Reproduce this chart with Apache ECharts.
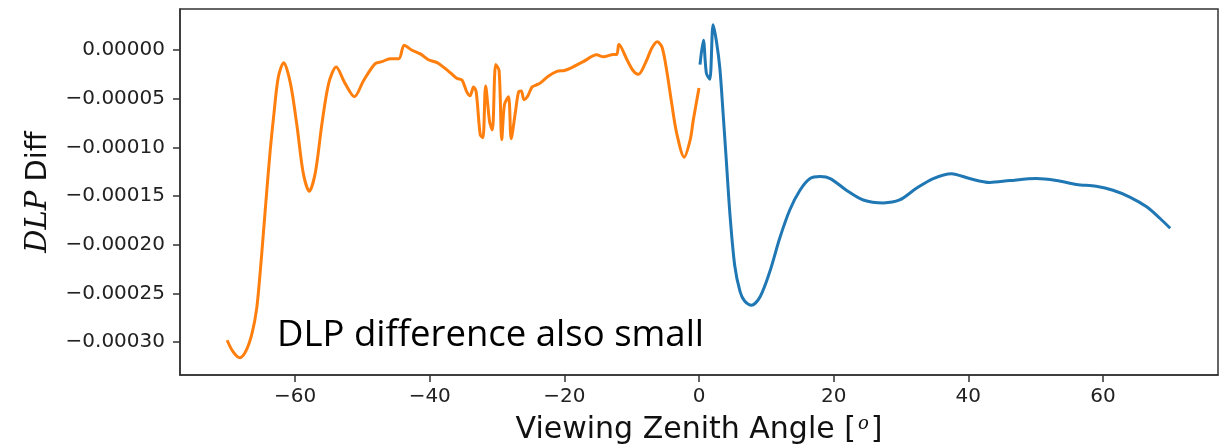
<!DOCTYPE html>
<html>
<head>
<meta charset="utf-8">
<script src="https://cdn.jsdelivr.net/npm/echarts@6/dist/echarts.min.js"></script>
<style>html,body{margin:0;padding:0;background:#fff}#c{width:1225px;height:448px}</style>
</head>
<body>
<div id="c"></div>
<script>
// Orange series: negative viewing zenith angles
const orangeX = [-70.1,-69.2,-68.2,-67.3,-66.4,-65.7,-65.2,-64.7,-64.2,-63.7,-63.2,-62.5,-61.7,-60.7,-59.7,-58.8,-57.9,-57.0,-56.0,-55.0,-53.9,-52.6,-51.2,-49.8,-48.1,-47.1,-45.9,-44.6,-43.8,-42.7,-41.4,-40.2,-38.9,-37.7,-37.0,-36.0,-35.2,-34.5,-34.0,-33.5,-33.1,-32.5,-32.1,-31.7,-31.1,-30.7,-30.2,-29.7,-29.3,-28.9,-28.3,-27.9,-27.3,-26.8,-26.4,-26.0,-25.5,-24.8,-24.2,-23.6,-22.4,-21.1,-20.0,-18.9,-17.2,-15.2,-14.2,-12.7,-12.2,-11.9,-10.7,-9.8,-9.0,-8.0,-7.0,-6.2,-5.5,-4.8,-4.05,-3.3,-2.2,-1.3,-0.85,0.0];
const orangeY = [-2.98e-4,-3.10e-4,-3.16e-4,-3.09e-4,-2.91e-4,-2.65e-4,-2.29e-4,-1.87e-4,-1.44e-4,-1.03e-4,-6.9e-5,-2.8e-5,-1.3e-5,-3.4e-5,-7.9e-5,-1.26e-4,-1.45e-4,-1.26e-4,-7.5e-5,-3.4e-5,-1.75e-5,-3.4e-5,-4.8e-5,-3.1e-5,-1.4e-5,-1.2e-5,-9e-6,-9e-6,5e-6,0,-4e-6,-1.0e-5,-1.3e-5,-1.9e-5,-2.3e-5,-2.9e-5,-3.1e-5,-4.3e-5,-4.7e-5,-3.8e-5,-4.3e-5,-8.7e-5,-9.0e-5,-3.7e-5,-7.4e-5,-8.2e-5,-1.5e-5,-2.1e-5,-9.2e-5,-5.6e-5,-4.8e-5,-9.1e-5,-6.5e-5,-4.3e-5,-4.2e-5,-5.1e-5,-4.8e-5,-3.8e-5,-3.6e-5,-3.4e-5,-2.7e-5,-2.2e-5,-2.1e-5,-1.8e-5,-1.2e-5,-5e-6,-7e-6,-4.5e-6,-4.5e-6,6e-6,-1.0e-5,-2.1e-5,-2.5e-5,-1.4e-5,2e-6,8.5e-6,3e-6,-2.1e-5,-5.5e-5,-8.6e-5,-1.10e-4,-9.2e-5,-7.2e-5,-3.9e-5];
// Blue series: positive viewing zenith angles
const blueX = [0.15,0.65,1.1,1.6,2.1,2.6,3.1,3.6,4.1,4.6,5.3,6.1,6.8,7.8,9.1,10.5,12.0,13.5,15.0,16.5,18.0,19.5,21.9,24.4,27.4,29.8,32.3,34.8,37.5,40.2,43.2,46.2,50.1,53.1,56.1,59.0,61.5,64.0,66.5,68.5,70.0];
const blueY = [-1.5e-5,1.0e-5,-2.4e-5,-3.0e-5,2.6e-5,8.5e-6,-1.9e-5,-6.7e-5,-1.18e-4,-1.69e-4,-2.21e-4,-2.48e-4,-2.58e-4,-2.62e-4,-2.53e-4,-2.28e-4,-1.93e-4,-1.64e-4,-1.44e-4,-1.32e-4,-1.30e-4,-1.32e-4,-1.44e-4,-1.54e-4,-1.57e-4,-1.54e-4,-1.42e-4,-1.32e-4,-1.27e-4,-1.32e-4,-1.36e-4,-1.34e-4,-1.32e-4,-1.34e-4,-1.38e-4,-1.40e-4,-1.44e-4,-1.51e-4,-1.61e-4,-1.73e-4,-1.83e-4];
const xTicks = [-60,-40,-20,0,20,40,60];
const yTicks = [-0.0003,-0.00025,-0.0002,-0.00015,-0.0001,-0.00005,0];
const xTitle = 'Viewing Zenith Angle [';
const yTitleMath = 'DLP';
const yTitleText = ' Diff';
const note = 'DLP difference also small';

const chart = echarts.init(document.getElementById('c'), null, {renderer:'canvas'});
const fmtY = v => (v < 0 ? '\u2212' : '') + Math.abs(v).toFixed(5);
const fmtX = v => (v < 0 ? '\u2212' : '') + Math.abs(v);
const axisColor = '#333';
chart.setOption({
  animation: false,
  backgroundColor: '#fff',
  grid: {left:180, right:7, top:9, bottom:73, show:true, borderColor:axisColor, borderWidth:1.5, backgroundColor:'transparent', outerBoundsMode:'none', containLabel:false},
  xAxis: {
    type:'value', min:-77.1, max:77.1,
    name: '{n|' + xTitle + '}{i|o}{n|]}', nameLocation:'middle', nameGap:40,
    nameTextStyle: {rich:{n:{fontFamily:'DejaVu Sans', fontSize:30, color:'#111'}, i:{fontFamily:'DejaVu Serif', fontStyle:'italic', fontSize:18, color:'#111', verticalAlign:'top', padding:[0,2,12,2]}}},
    axisLine:{show:true, onZero:false, lineStyle:{color:axisColor, width:1.5}},
    axisTick:{show:true, customValues:xTicks, length:7, lineStyle:{color:axisColor, width:1.5}},
    axisLabel:{customValues:xTicks, formatter:fmtX, fontFamily:'DejaVu Sans', fontSize:20, color:'#222', margin:12},
    splitLine:{show:false}
  },
  yAxis: {
    type:'value', min:-3.337e-4, max:4.21e-5,
    name: '{i|' + yTitleMath + '}{n|' + yTitleText + '}', nameLocation:'middle', nameGap:127, nameRotate:90,
    nameTextStyle: {rich:{n:{fontFamily:'DejaVu Sans', fontSize:29, color:'#111'}, i:{fontFamily:'DejaVu Serif', fontStyle:'italic', fontSize:29, color:'#111'}}},
    axisLine:{show:true, onZero:false, lineStyle:{color:axisColor, width:1.5}},
    axisTick:{show:true, customValues:yTicks, length:7, lineStyle:{color:axisColor, width:1.5}},
    axisLabel:{customValues:yTicks, formatter:fmtY, fontFamily:'DejaVu Sans', fontSize:20, color:'#222', margin:15},
    splitLine:{show:false}
  },
  series: [
    {type:'line', data: orangeX.map((x,i)=>[x, orangeY[i]]), showSymbol:false, smooth:0.3, lineStyle:{color:'#ff7f0e', width:3}, itemStyle:{color:'#ff7f0e'}},
    {type:'line', data: blueX.map((x,i)=>[x, blueY[i]]), showSymbol:false, smooth:0.3, lineStyle:{color:'#1f77b4', width:3}, itemStyle:{color:'#1f77b4'}}
  ],
  graphic: [
    {type:'text', left:277, top:317, style:{text:note, font:'36.5px "Open Sans"', fill:'#000'}}
  ]
});
</script>
</body>
</html>
